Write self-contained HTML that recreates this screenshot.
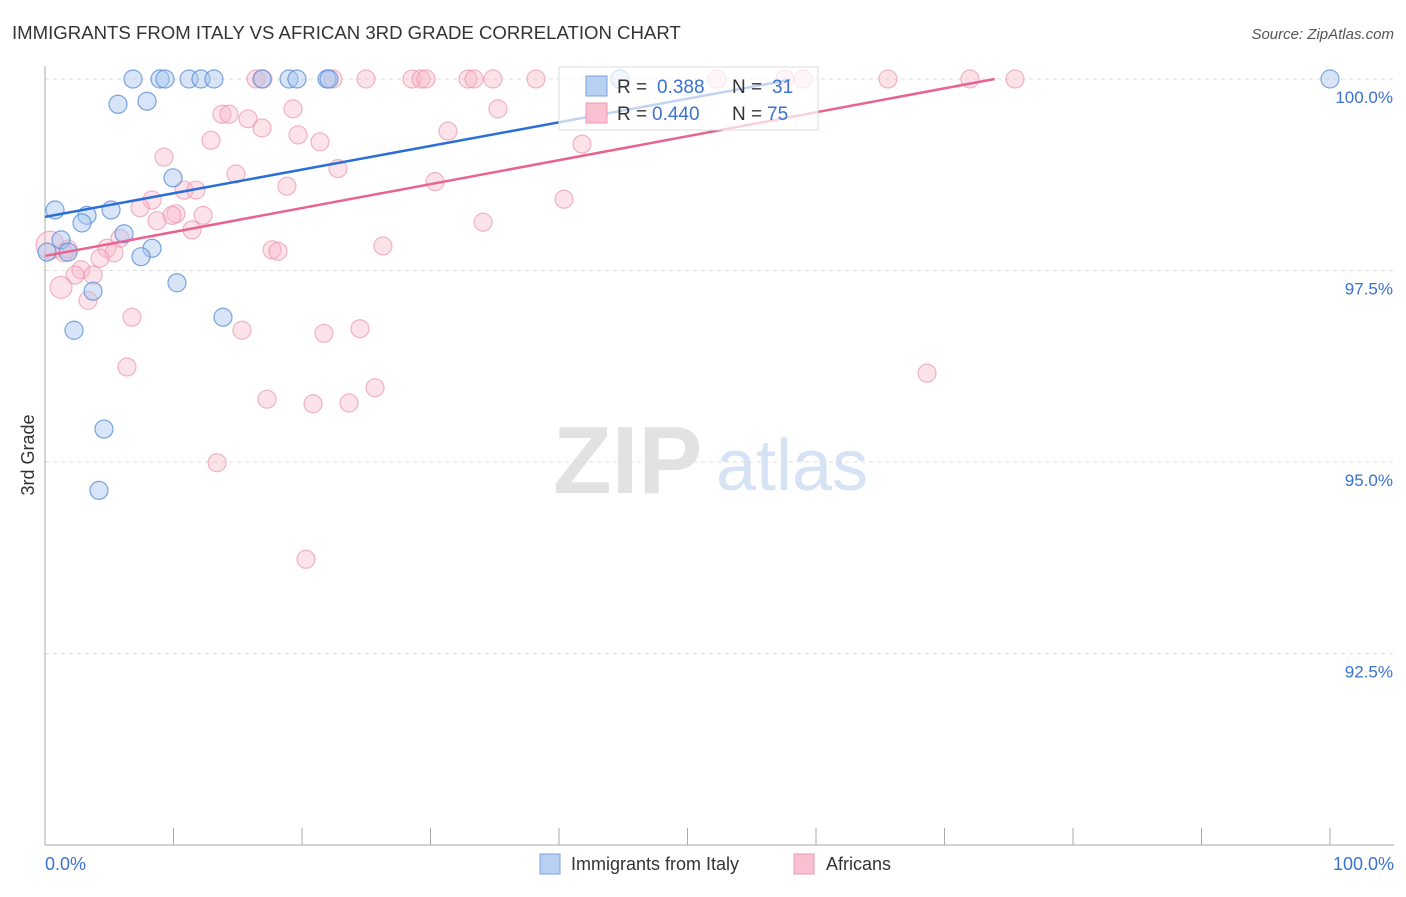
<!DOCTYPE html>
<html><head><meta charset="utf-8"><style>
body{margin:0;background:#fff;font-family:"Liberation Sans",sans-serif;}
svg text{font-family:"Liberation Sans",sans-serif;}
</style></head><body>
<svg id="chart" width="1406" height="892" viewBox="0 0 1406 892">
<text x="12" y="39" font-size="18.6" fill="#333">IMMIGRANTS FROM ITALY VS AFRICAN 3RD GRADE CORRELATION CHART</text>
<text x="1394" y="39" font-size="15" fill="#555" text-anchor="end" font-style="italic">Source: ZipAtlas.com</text>
<g>
<text x="553" y="493" font-size="96" fill="#e2e2e2" font-family="Liberation Serif" font-weight="bold">ZIP</text>
<text x="716" y="490" font-size="72" fill="#d5e3f5">atlas</text>
</g>
<g id="grid"></g>
<g id="axes"></g>
<g id="points"></g>
<g id="trends"></g>
<text transform="translate(34,455) rotate(-90)" font-size="18" fill="#333" text-anchor="middle">3rd Grade</text>
<g>
<rect x="559" y="67" width="259" height="63" fill="#fff" fill-opacity="0.7" stroke="#ddd"/>
<rect x="586" y="76" width="21" height="20" fill="#b8d0f2" stroke="#7aa5e0"/>
<rect x="586" y="103" width="21" height="20" fill="#f8c0d0" stroke="#ec9ab2"/>
<text x="617" y="93" font-size="19" fill="#333">R = <tspan fill="#3a72d0" x="657">0.388</tspan><tspan x="732" fill="#333">N = </tspan><tspan fill="#3a72d0" x="772">31</tspan></text>
<text x="617" y="120" font-size="19" fill="#333">R = <tspan fill="#3a72d0" x="652">0.440</tspan><tspan x="732" fill="#333">N = </tspan><tspan fill="#3a72d0" x="767">75</tspan></text>
</g>
<g>
<rect x="540" y="854" width="20" height="20" fill="#b8d0f2" stroke="#7aa5e0"/>
<text x="571" y="870" font-size="18" fill="#333">Immigrants from Italy</text>
<rect x="794" y="854" width="20" height="20" fill="#f8c0d0" stroke="#ec9ab2"/>
<text x="826" y="870" font-size="18" fill="#333">Africans</text>
</g>
</svg>
<script>
const yTicks=[100,97.5,95,92.5];
const yTickLabels=["100.0%","97.5%","95.0%","92.5%"];
const xTickLabels=["0.0%","100.0%"];
const italyX=[6.85,8.95,9.34,11.21,12.14,13.15,16.89,18.99,19.61,21.95,22.1,100,44.75,5.68,7.94,9.96,0.78,3.27,5.14,2.88,6.15,1.25,0.16,1.79,8.33,7.47,10.27,3.74,2.26,13.85,4.59,4.2];
const italyY=[100,100,100,100,100,100,100,100,100,100,100,100,100,99.67,99.71,98.71,98.29,98.22,98.29,98.12,97.98,97.9,97.74,97.74,97.79,97.68,97.34,97.23,96.72,96.89,95.43,94.63];
const afrX=[16.42,16.96,22.41,24.98,28.56,29.26,29.65,32.92,33.39,34.86,38.21,52.3,57.59,58.99,65.6,71.98,75.49,13.77,14.32,15.8,16.89,19.3,12.92,19.69,21.4,9.26,14.86,22.8,35.25,31.36,41.79,10.82,11.75,18.83,30.35,40.39,8.33,7.39,10.19,9.88,12.3,8.72,34.09,11.44,5.84,4.82,5.37,4.28,1.79,0.39,17.67,18.13,26.3,1.48,2.8,2.33,3.74,1.25,3.35,6.77,15.33,21.71,24.51,6.38,25.68,17.28,20.86,23.66,68.64,13.39,20.31];
const afrY=[100,100,100,100,100,100,100,100,100,100,100,100,100,100,100,100,100,99.54,99.54,99.48,99.36,99.61,99.2,99.27,99.18,98.98,98.76,98.83,99.61,99.32,99.15,98.55,98.55,98.6,98.66,98.43,98.42,98.32,98.24,98.22,98.22,98.15,98.13,98.03,97.92,97.79,97.73,97.66,97.78,97.83,97.77,97.75,97.82,97.73,97.51,97.44,97.44,97.28,97.11,96.89,96.72,96.68,96.74,96.24,95.97,95.82,95.76,95.77,96.16,94.99,93.73];
const afrBig=[49,57];
const italyTrendX=[0,58];
const italyTrendY=[98.2,99.99];
const afrTrendX=[0,73.9];
const afrTrendY=[97.69,100];
const NS="http://www.w3.org/2000/svg";
const xs=v=>45+v*12.85;
const ys=v=>79+(100-v)*76.6;
function mk(t,a,p){const e=document.createElementNS(NS,t);for(const k in a)e.setAttribute(k,a[k]);p.appendChild(e);return e;}
const grid=document.getElementById('grid'),axes=document.getElementById('axes'),pts=document.getElementById('points'),tr=document.getElementById('trends');
yTicks.forEach((t,i)=>{
 const l=mk('line',{x1:45,x2:1394,y1:ys(t),y2:ys(t),stroke:'#ddd','stroke-dasharray':'4,4'},grid);
 
 
 const tx=mk('text',{x:1393,y:ys(t)+24,'font-size':17,fill:'#3a72d0','text-anchor':'end'},axes);
 tx.textContent=yTickLabels[i];
 
 
});
let yl=mk('line',{x1:45,x2:45,y1:66,y2:845,stroke:'#aaa'},axes);


let xl=mk('line',{x1:45,x2:1394,y1:845,y2:845,stroke:'#aaa'},axes);


for(let i=0;i<=10;i++){const tk=mk('line',{x1:xs(i*10),x2:xs(i*10),y1:828,y2:845,stroke:'#aaa'},axes);
 
 }
xTickLabels.forEach((s,i)=>{const t=mk('text',{x:i?1394:45,y:870,'font-size':18,fill:'#3a72d0','text-anchor':i?'end':'start'},axes);t.textContent=s;
 
 });
afrX.forEach((v,i)=>{const r=afrBig[0]===i?14:(afrBig[1]===i?11:9);
 const c=mk('circle',{cx:xs(v),cy:ys(afrY[i]),r:r,fill:'#f7b6c9','fill-opacity':0.4,stroke:'#eb8fab','stroke-opacity':0.65,'stroke-width':1.2},pts);
 
 });
italyX.forEach((v,i)=>{const c=mk('circle',{cx:xs(v),cy:ys(italyY[i]),r:9,fill:'#a9c6ef','fill-opacity':0.45,stroke:'#5b8fd8','stroke-opacity':0.8,'stroke-width':1.2},pts);
 
 });
let t1=mk('line',{x1:xs(italyTrendX[0]),y1:ys(italyTrendY[0]),x2:xs(italyTrendX[1]),y2:ys(italyTrendY[1]),stroke:'#2a6fd6','stroke-width':2.5},tr);


let t2=mk('line',{x1:xs(afrTrendX[0]),y1:ys(afrTrendY[0]),x2:xs(afrTrendX[1]),y2:ys(afrTrendY[1]),stroke:'#e8638f','stroke-width':2.5},tr);


</script>
</body></html>
